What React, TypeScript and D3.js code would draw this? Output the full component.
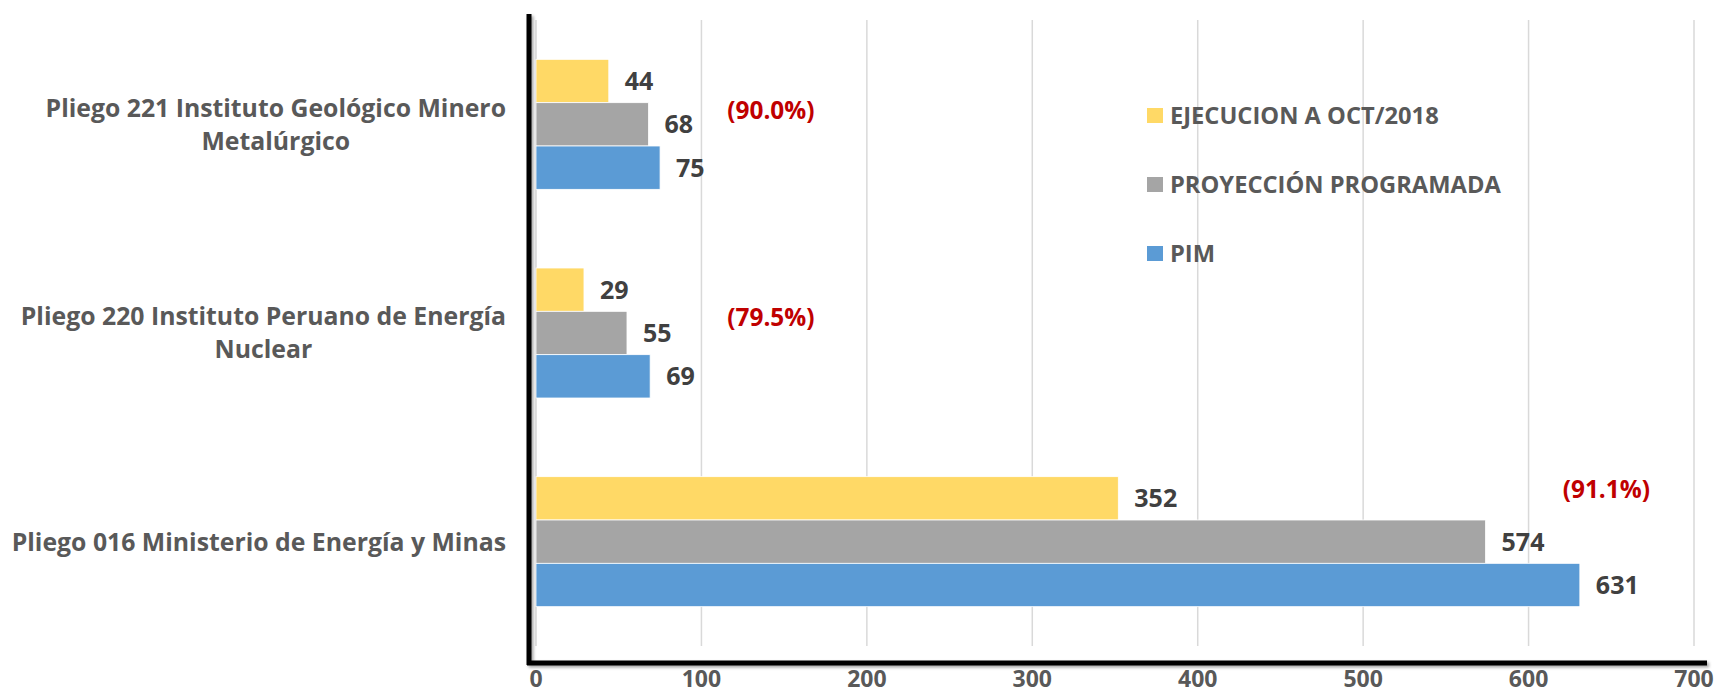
import React, { useRef, useEffect } from 'react';
import * as d3 from 'd3';

// categories, top to bottom
const categories = ['p221', 'p220', 'p016'];
const categoryLines = [
  ['Pliego 221 Instituto Geológico Minero', 'Metalúrgico'],
  ['Pliego 220 Instituto Peruano de Energía', 'Nuclear'],
  ['Pliego 016 Ministerio de Energía y Minas'],
];

// series values (millions)
const ejecucion = [44, 29, 352];
const proyeccion = [68, 55, 574];
const pim = [75, 69, 631];

const seriesNames = ['EJECUCION A OCT/2018', 'PROYECCIÓN PROGRAMADA', 'PIM'];
const percentLabels = ['(90.0%)', '(79.5%)', '(91.1%)'];
const xTicks = [0, 100, 200, 300, 400, 500, 600, 700];

const colors = ['#FFD966', '#A5A5A5', '#5B9BD5'];

const App = () => {
  const chartRef = useRef(null);

  useEffect(() => {
    document.body.style.margin = '0';
    const container = d3.select(chartRef.current);
    container.selectAll('svg').remove();

    const width = 1719;
    const height = 694;
    const font = '"Open Sans", sans-serif';

    const svg = container
      .append('svg')
      .attr('width', width)
      .attr('height', height)
      .style('display', 'block')
      .style('font-family', font)
      .style('font-weight', 'bold');

    const x = d3.scaleLinear().domain([0, 700]).range([536, 1694]);
    const y = d3.scaleBand().domain(categories).range([20, 646]).paddingInner(0).paddingOuter(0);
    const groupH = 130;
    const sub = d3.scaleBand().domain(['0', '1', '2']).range([0, groupH]);

    // gridlines
    svg.append('g')
      .selectAll('line')
      .data(xTicks)
      .enter()
      .append('line')
      .attr('x1', d => x(d))
      .attr('x2', d => x(d))
      .attr('y1', 20)
      .attr('y2', 646)
      .attr('stroke', '#D9D9D9')
      .attr('stroke-width', 1.5);

    const seriesData = [ejecucion, proyeccion, pim];

    // bars
    seriesData.forEach((vals, si) => {
      const g = svg.append('g');
      g.selectAll('rect')
        .data(vals)
        .enter()
        .append('rect')
        .attr('x', x(0))
        .attr('y', (d, i) => (y(categories[i]) as number) + (y.bandwidth() - groupH) / 2 + (sub(String(si)) as number))
        .attr('width', d => x(d) - x(0))
        .attr('height', sub.bandwidth())
        .attr('fill', colors[si])
        .attr('stroke', '#ffffff')
        .attr('stroke-width', 0.8);

      g.selectAll('text')
        .data(vals)
        .enter()
        .append('text')
        .attr('x', d => x(d) + 16)
        .attr('y', (d, i) => (y(categories[i]) as number) + (y.bandwidth() - groupH) / 2 + (sub(String(si)) as number) + sub.bandwidth() / 2)
        .attr('dy', '0.36em')
        .attr('font-size', 25)
        .attr('fill', '#404040')
        .text(d => d);
    });

    // percent annotations (placed by hand like the original)
    const pctX = [142, 142, 647];
    const pctDy = [-14, -16, -52];
    svg.append('g')
      .selectAll('text')
      .data(percentLabels)
      .enter()
      .append('text')
      .attr('x', (d, i) => x(pctX[i]))
      .attr('y', (d, i) => (y(categories[i]) as number) + y.bandwidth() / 2 + pctDy[i])
      .attr('dy', '0.36em')
      .attr('text-anchor', 'middle')
      .attr('font-size', 24.4)
      .attr('fill', '#C00000')
      .text(d => d);

    // category labels: block right-aligned, lines centered inside block
    const labelRight = 506;
    const lineH = 33;
    categoryLines.forEach((lines, i) => {
      const cy = (y(categories[i]) as number) + y.bandwidth() / 2;
      const g = svg.append('g');
      const texts = lines.map((ln, li) =>
        g.append('text')
          .attr('y', cy + (li - (lines.length - 1) / 2) * lineH)
          .attr('dy', '0.36em')
          .attr('font-size', 24.8)
          .attr('fill', '#595959')
          .attr('text-anchor', 'middle')
          .text(ln)
      );
      const widths = texts.map(t => (t.node() as SVGTextElement).getComputedTextLength());
      const maxW = d3.max(widths) as number;
      texts.forEach(t => t.attr('x', labelRight - maxW / 2));
    });

    // black axis lines with soft shadow
    const defs = svg.append('defs');
    const f = defs.append('filter').attr('id', 'sh').attr('x', '-5%').attr('y', '-5%').attr('width', '110%').attr('height', '110%');
    f.append('feDropShadow').attr('dx', 2).attr('dy', 2).attr('stdDeviation', 1.5).attr('flood-color', '#000').attr('flood-opacity', 0.35);

    const axes = svg.append('g').attr('filter', 'url(#sh)');
    axes.append('line')
      .attr('x1', 529).attr('x2', 529)
      .attr('y1', 14).attr('y2', 665)
      .attr('stroke', '#000').attr('stroke-width', 5);
    axes.append('line')
      .attr('x1', 527).attr('x2', 1707)
      .attr('y1', 663).attr('y2', 663)
      .attr('stroke', '#000').attr('stroke-width', 5);

    // x tick labels
    svg.append('g')
      .selectAll('text')
      .data(xTicks)
      .enter()
      .append('text')
      .attr('x', d => x(d))
      .attr('y', 679)
      .attr('dy', '0.36em')
      .attr('text-anchor', 'middle')
      .attr('font-size', 23)
      .attr('fill', '#595959')
      .text(d => d);

    // legend
    const legend = svg.append('g');
    seriesNames.forEach((name, i) => {
      const ly = 115.5 + i * 69;
      legend.append('rect')
        .attr('x', 1147).attr('y', ly - 7.5)
        .attr('width', 16).attr('height', 15)
        .attr('fill', colors[i]);
      legend.append('text')
        .attr('x', 1170).attr('y', ly)
        .attr('dy', '0.36em')
        .attr('font-size', 23.7)
        .attr('fill', '#595959')
        .text(name);
    });
  }, []);

  return <div ref={chartRef}></div>;
};

export default App;
